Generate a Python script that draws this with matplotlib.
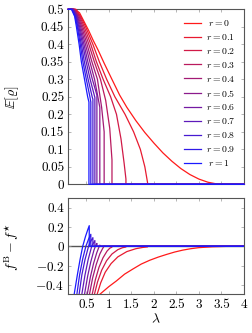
import matplotlib
matplotlib.use("Agg")
import matplotlib.pyplot as plt

plt.rcParams["font.family"] = "serif"
plt.rcParams["font.serif"] = ["cmr10"]
plt.rcParams["mathtext.fontset"] = "cm"
plt.rcParams["axes.formatter.use_mathtext"] = True

r_values = [0, 0.1, 0.2, 0.3, 0.4, 0.5, 0.6, 0.7, 0.8, 0.9, 1]
r_labels = [r"$\;r = 0$", "$r = 0.1$", "$r = 0.2$", "$r = 0.3$", "$r = 0.4$", "$r = 0.5$",
            "$r = 0.6$", "$r = 0.7$", "$r = 0.8$", "$r = 0.9$", r"$\;r = 1$"]

# top panel: E[rho] against lambda, one list per r
top_lam = [
    [0.1, 0.25, 0.35, 0.45, 0.55, 0.65, 0.76, 0.9, 1.05, 1.24, 1.4, 1.6, 1.8, 2.0, 2.2, 2.4, 2.6, 2.8, 3.0, 3.2, 3.4, 4.0],
    [0.1, 0.27, 0.374, 0.484, 0.646, 0.79, 0.952, 1.135, 1.36, 1.55, 1.7, 1.8, 1.86, 1.86, 4.0],
    [0.1, 0.25, 0.355, 0.453, 0.599, 0.725, 0.874, 1.04, 1.17, 1.27, 1.34, 1.38, 1.38, 4.0],
    [0.1, 0.23, 0.336, 0.424, 0.556, 0.678, 0.814, 0.93, 1.02, 1.07, 1.07, 4.0],
    [0.1, 0.22, 0.316, 0.398, 0.516, 0.624, 0.747, 0.84, 0.896, 0.896, 4.0],
    [0.1, 0.22, 0.302, 0.374, 0.48, 0.579, 0.683, 0.80, 0.80, 4.0],
    [0.1, 0.21, 0.288, 0.352, 0.448, 0.534, 0.634, 0.735, 0.735, 4.0],
    [0.1, 0.2, 0.276, 0.333, 0.419, 0.497, 0.585, 0.69, 0.69, 4.0],
    [0.1, 0.19, 0.262, 0.314, 0.39, 0.457, 0.54, 0.63, 0.646, 0.646, 4.0],
    [0.1, 0.18, 0.25, 0.30, 0.365, 0.424, 0.50, 0.58, 0.60, 0.60, 4.0],
    [0.1, 0.17, 0.24, 0.28, 0.34, 0.39, 0.46, 0.53, 0.558, 0.558, 4.0],
]
top_val = [
    [0.5, 0.5, 0.49, 0.465, 0.44, 0.412, 0.384, 0.345, 0.305, 0.255, 0.22, 0.182, 0.148, 0.118, 0.09, 0.066, 0.045, 0.028, 0.015, 0.006, 0.001, 0],
    [0.5, 0.5, 0.48, 0.45, 0.4, 0.35, 0.3, 0.25, 0.2, 0.15, 0.1, 0.05, 0.005, 0, 0],
    [0.5, 0.5, 0.48, 0.45, 0.4, 0.35, 0.3, 0.25, 0.2, 0.13, 0.06, 0.015, 0, 0],
    [0.5, 0.5, 0.48, 0.45, 0.4, 0.35, 0.3, 0.24, 0.16, 0.07, 0, 0],
    [0.5, 0.5, 0.48, 0.45, 0.4, 0.35, 0.3, 0.22, 0.15, 0, 0],
    [0.5, 0.5, 0.48, 0.45, 0.4, 0.35, 0.3, 0.22, 0, 0],
    [0.5, 0.5, 0.48, 0.45, 0.4, 0.35, 0.3, 0.255, 0, 0],
    [0.5, 0.5, 0.48, 0.45, 0.4, 0.35, 0.3, 0.248, 0, 0],
    [0.5, 0.5, 0.48, 0.45, 0.4, 0.35, 0.3, 0.25, 0.243, 0, 0],
    [0.5, 0.5, 0.48, 0.45, 0.4, 0.35, 0.3, 0.25, 0.235, 0, 0],
    [0.5, 0.5, 0.48, 0.45, 0.4, 0.35, 0.3, 0.25, 0.235, 0, 0],
]

# bottom panel: f^B - f^* against lambda
bot_lam = [
    [0.80, 0.9, 1.0, 1.17, 1.35, 1.54, 1.72, 1.91, 2.1, 2.28, 2.46, 2.64, 2.82, 3.0, 3.3, 3.6, 4.0],
    [0.74, 0.82, 0.92, 1.05, 1.2, 1.4, 1.6, 1.75, 1.86, 1.86, 4.0],
    [0.68, 0.75, 0.84, 0.95, 1.07, 1.2, 1.3, 1.38, 1.38, 4.0],
    [0.63, 0.7, 0.78, 0.87, 0.96, 1.02, 1.07, 1.07, 4.0],
    [0.57, 0.64, 0.72, 0.8, 0.86, 0.896, 0.896, 4.0],
    [0.52, 0.59, 0.66, 0.73, 0.77, 0.80, 0.80, 4.0],
    [0.46, 0.53, 0.6, 0.67, 0.71, 0.735, 0.735, 4.0],
    [0.40, 0.47, 0.54, 0.62, 0.66, 0.69, 0.69, 4.0],
    [0.34, 0.40, 0.47, 0.55, 0.60, 0.646, 0.646, 4.0],
    [0.29, 0.35, 0.42, 0.49, 0.55, 0.60, 0.60, 4.0],
    [0.23, 0.30, 0.36, 0.42, 0.48, 0.53, 0.565, 0.565, 4.0],
]
bot_val = [
    [-0.5, -0.46, -0.42, -0.36, -0.29, -0.235, -0.185, -0.145, -0.112, -0.085, -0.06, -0.04, -0.025, -0.014, -0.005, -0.001, 0],
    [-0.5, -0.38, -0.27, -0.18, -0.11, -0.055, -0.025, -0.012, -0.006, 0, 0],
    [-0.5, -0.37, -0.25, -0.15, -0.08, -0.035, -0.015, -0.007, 0, 0],
    [-0.5, -0.35, -0.22, -0.12, -0.05, -0.02, -0.008, 0, 0],
    [-0.5, -0.33, -0.19, -0.08, -0.025, 0.003, 0, 0],
    [-0.5, -0.32, -0.18, -0.07, -0.02, 0.012, 0, 0],
    [-0.5, -0.31, -0.16, -0.04, 0.01, 0.03, 0, 0],
    [-0.5, -0.3, -0.14, 0.0, 0.035, 0.06, 0, 0],
    [-0.5, -0.3, -0.14, 0.0, 0.055, 0.09, 0, 0],
    [-0.5, -0.3, -0.13, 0.0, 0.075, 0.125, 0, 0],
    [-0.5, -0.3, -0.14, 0.0, 0.1, 0.17, 0.215, 0, 0],
]

top_yticks = [0, 0.05, 0.1, 0.15, 0.2, 0.25, 0.3, 0.35, 0.4, 0.45, 0.5]
top_ylabels = ["0", "0.05", "0.1", "0.15", "0.2", "0.25", "0.3", "0.35", "0.4", "0.45", "0.5"]
bot_yticks = [-0.4, -0.2, 0, 0.2, 0.4]
bot_ylabels = ["$-0.4$", "$-0.2$", "0", "0.2", "0.4"]
xticks = [0.5, 1, 1.5, 2, 2.5, 3, 3.5, 4]
xlabels = ["0.5", "1", "1.5", "2", "2.5", "3", "3.5", "4"]

fig = plt.figure(figsize=(2.53, 3.33), dpi=100)
ax1 = fig.add_axes([0.270, 0.4465, 0.694, 0.5255])
ax2 = fig.add_axes([0.270, 0.1162, 0.694, 0.2883])

for ax in (ax1, ax2):
    ax.set_xlim(0.1, 4)
    ax.set_xticks(xticks)
    ax.tick_params(direction="in", top=True, right=True, length=2.5, width=0.5,
                   color="#999999", labelsize=9.5, pad=3)
    for s in ax.spines.values():
        s.set_color("#555555")
        s.set_linewidth(0.8)

ax2.axhline(0, color="#555555", lw=1.0, zorder=1)

for i, r in enumerate(r_values):
    # red mixed into blue, slightly lightened
    c = (0.1 + 0.9 * (1 - r), 0.1, 0.1 + 0.9 * r)
    ax1.plot(top_lam[i], top_val[i], color=c, lw=0.9, label=r_labels[i],
             zorder=3, clip_on=False)
    ax2.plot(bot_lam[i], bot_val[i], color=c, lw=0.9, zorder=3)

ax1.set_ylim(0, 0.5)
ax1.set_yticks(top_yticks)
ax1.set_yticklabels(top_ylabels)
ax1.set_xticklabels([])
ax1.set_ylabel(r"$\mathbb{E}[\varrho]$", fontsize=10)
ax1.yaxis.set_label_coords(-0.27, 0.5)

ax2.set_ylim(-0.5, 0.5)
ax2.set_yticks(bot_yticks)
ax2.set_yticklabels(bot_ylabels)
ax2.set_xticklabels(xlabels)
ax2.set_ylabel(r"$f^{\mathrm{B}} - f^{\star}$", fontsize=10)
ax2.yaxis.set_label_coords(-0.27, 0.5)
ax2.set_xlabel(r"$\lambda$", fontsize=10)
ax2.xaxis.set_label_coords(0.5, -0.19)

ax1.legend(loc="upper right", frameon=False, fontsize=7, handlelength=1.7,
           labelspacing=0.4, borderaxespad=0.5, handletextpad=0.5)

fig.savefig("out.png", dpi=100)
